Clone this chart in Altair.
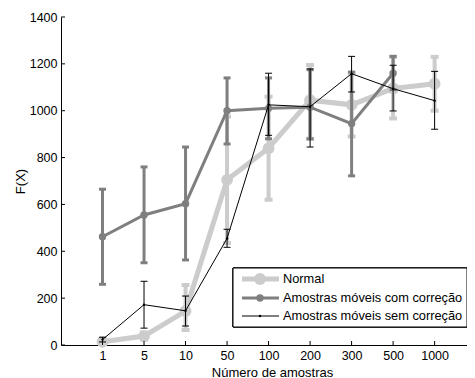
import altair as alt
import pandas as pd

# ---- data ----
labels = ["1", "5", "10", "50", "100", "200", "300", "500", "1000"]
series_names = ["Normal", "Amostras móveis com correção", "Amostras móveis sem correção"]

normal_y = [14, 38, 145, 705, 840, 1045, 1025, 1095, 1115]
normal_lo = [4, 23, 64, 435, 620, 880, 890, 967, 1000]
normal_hi = [24, 53, 256, 975, 1060, 1195, 1160, 1230, 1230]

com_y = [462, 555, 603, 1000, 1010, 1015, 945, 1160]
com_lo = [259, 351, 363, 858, 880, 880, 722, 1090]
com_hi = [665, 760, 845, 1140, 1140, 1175, 1165, 1232]

sem_y = [23, 172, 146, 455, 1025, 1017, 1158, 1094, 1043]
sem_lo = [13, 72, 81, 417, 895, 845, 1080, 999, 921]
sem_hi = [33, 272, 209, 494, 1160, 1178, 1232, 1194, 1168]

y_ticks = [0, 200, 400, 600, 800, 1000, 1200, 1400]

W, H = 406, 328
X_MAX = 9.78
FONT = "Liberation Sans"


def frame(ys, lo, hi):
    return pd.DataFrame({
        "idx": list(range(1, len(ys) + 1)),
        "y": ys, "lo": lo, "hi": hi,
    })


label_expr = "[" + ",".join("'%s'" % l for l in labels) + "][datum.value - 1]"

xscale = alt.Scale(domain=[0, X_MAX], nice=False, zero=False)
yscale = alt.Scale(domain=[0, 1400], nice=False)

X = alt.X("idx:Q", scale=xscale,
          axis=alt.Axis(values=list(range(1, 10)), labelExpr=label_expr,
                        title="Número de amostras", titleX=211, titleY=31,
                        titleBaseline="alphabetic", labelPadding=4))
Y = alt.Y("y:Q", scale=yscale,
          axis=alt.Axis(values=y_ticks, format="d", title="F(X)", titleX=-41,
                        titleY=164, titleBaseline="middle", titleAlign="center",
                        labelPadding=4))


def series_layers(df, color, lw, err_w, msize, capw):
    base = alt.Chart(df)
    bars = base.mark_rule(color=color, strokeWidth=err_w).encode(
        x=X, y=alt.Y("lo:Q", scale=yscale), y2="hi:Q")
    cap_hi = base.mark_tick(color=color, thickness=err_w, size=capw,
                            orient="horizontal", opacity=1).encode(
        x=X, y=alt.Y("hi:Q", scale=yscale))
    cap_lo = base.mark_tick(color=color, thickness=err_w, size=capw,
                            orient="horizontal", opacity=1).encode(
        x=X, y=alt.Y("lo:Q", scale=yscale))
    line = base.mark_line(color=color, strokeWidth=lw).encode(x=X, y=Y)
    pts = base.mark_point(filled=True, color=color, size=msize, opacity=1).encode(x=X, y=Y)
    return [bars, cap_hi, cap_lo, line, pts]


styles = [
    ("#cccccc", 5, 4, 140, 8),
    ("#7f7f7f", 3, 3, 55, 7),
    ("#000000", 1, 1, 6, 7),
]

layers = []
for (ys, lo, hi), st in zip([(normal_y, normal_lo, normal_hi),
                             (com_y, com_lo, com_hi),
                             (sem_y, sem_lo, sem_hi)], styles):
    layers += series_layers(frame(ys, lo, hi), *st)

# inward axis ticks
ytick_df = pd.DataFrame({"v": y_ticks})
xtick_df = pd.DataFrame({"idx": list(range(1, 10))})
layers.append(alt.Chart(ytick_df).mark_rule(color="black", strokeWidth=1).encode(
    y=alt.Y("v:Q", scale=yscale), x=alt.value(0), x2=alt.value(4)))
layers.append(alt.Chart(xtick_df).mark_rule(color="black", strokeWidth=1).encode(
    x=alt.X("idx:Q", scale=xscale), y=alt.value(H), y2=alt.value(H - 4)))

# legend box
leg_df = pd.DataFrame({"name": series_names})
layers.append(alt.Chart(leg_df).mark_rect(fill="white", stroke="black", strokeWidth=1).encode(
    x=alt.value(172), x2=alt.value(406), y=alt.value(251), y2=alt.value(310)))
row_y = [262, 281, 299]
for name, ry, (color, lw, err_w, msize, capw) in zip(series_names, row_y, styles):
    d = pd.DataFrame({"name": [name]})
    c = alt.Chart(d)
    layers.append(c.mark_rule(color=color, strokeWidth=lw).encode(
        x=alt.value(181), x2=alt.value(218), y=alt.value(ry)))
    layers.append(c.mark_point(filled=True, color=color, size=msize, opacity=1).encode(
        x=alt.value(199), y=alt.value(ry)))
    layers.append(c.mark_text(align="left", baseline="middle", font=FONT, fontSize=12.8,
                              color="black").encode(
        x=alt.value(222), y=alt.value(ry), text="name:N"))

chart = alt.layer(*layers).properties(
    width=W, height=H,
    autosize="none",
    padding={"left": 53, "top": 9, "right": 0, "bottom": 35},
).configure_view(stroke=None).configure_axis(
    grid=False, domainColor="black", domainWidth=1, tickSize=0,
    labelFont=FONT, labelFontSize=12.5, labelColor="black",
    titleFont=FONT, titleFontSize=13, titleColor="black", titleFontWeight="normal",
)

chart.save("out.html", embed_options={"renderer": "svg", "actions": False})
